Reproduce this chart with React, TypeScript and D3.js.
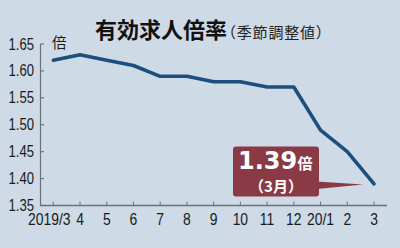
import React from "react";
import * as d3 from "d3";

const months = ["2019/3", "4", "5", "6", "7", "8", "9", "10", "11", "12", "20/1", "2", "3"];
const values = [1.62, 1.63, 1.62, 1.61, 1.59, 1.59, 1.58, 1.58, 1.57, 1.57, 1.49, 1.45, 1.39];
const yTicks = [1.35, 1.4, 1.45, 1.5, 1.55, 1.6, 1.65];
const title = "有効求人倍率";
const subtitle = "（季節調整値）";
const unit = "倍";
const calloutValue = "1.39";
const calloutMonth = "（3月）";

const W = 400;
const H = 248;
const NUM_FONT = "'Liberation Sans', Arial, sans-serif";
const JP_FONT = "'Noto Sans CJK JP', sans-serif";

function Narrow(props: {
  x: number;
  y: number;
  anchor: "start" | "middle" | "end";
  size: number;
  sx?: number;
  children: React.ReactNode;
}) {
  const sx = props.sx ?? 0.82;
  return (
    <text
      transform={`translate(${props.x},${props.y}) scale(${sx},1)`}
      textAnchor={props.anchor}
      fontFamily={NUM_FONT}
      fontSize={props.size}
      fill="#1a1a1a"
    >
      {props.children}
    </text>
  );
}

export default function App() {
  const x = d3.scaleLinear().domain([0, months.length - 1]).range([53.3, 374]);
  const y = d3.scaleLinear().domain([1.35, 1.65]).range([205.5, 44]);
  const line = d3
    .line<number>()
    .x((_, i) => x(i))
    .y((d) => y(d));
  const xAxisEnd = 387;
  const axisColor = "#6d7278";
  const box = { x0: 233, x1: 319, y0: 146.5, y1: 196.5 };
  const lastX = x(values.length - 1);
  const lastY = y(values[values.length - 1]);

  return (
    <svg
      width={W}
      height={H}
      style={{ position: "absolute", left: 0, top: 0, display: "block" }}
    >
      <rect x={0} y={0} width={W} height={H} fill="#cedae6" />
      <text x={95} y={38} fontFamily={JP_FONT} fontWeight={700} fontSize={22} fill="#111">
        {title}
      </text>
      <text x={221} y={38} fontFamily={JP_FONT} fontSize={15} letterSpacing={0.8} fill="#222">
        {subtitle}
      </text>
      {/* axes */}
      <line x1={40.5} x2={40.5} y1={y(1.65)} y2={y(1.35)} stroke={axisColor} strokeWidth={1.2} />
      <line x1={40} x2={xAxisEnd} y1={y(1.35)} y2={y(1.35)} stroke={axisColor} strokeWidth={1.4} />
      {yTicks.map((t) => (
        <g key={t}>
          <line x1={40.5} x2={44} y1={y(t)} y2={y(t)} stroke={axisColor} strokeWidth={1.2} />
          <Narrow x={34} y={y(t) + 5.5} anchor="end" size={16}>
            {t.toFixed(2)}
          </Narrow>
        </g>
      ))}
      {months.map((m, i) => (
        <g key={m + i}>
          <line x1={x(i)} x2={x(i)} y1={y(1.35) - 4} y2={y(1.35)} stroke={axisColor} strokeWidth={1} />
          <Narrow x={x(i) + (i === 0 ? -4 : 0)} y={224.5} anchor="middle" size={17}>
            {m}
          </Narrow>
        </g>
      ))}
      <text x={52} y={48} fontFamily={JP_FONT} fontSize={14.5} fill="#1a1a1a">
        {unit}
      </text>
      <path
        d={line(values) || ""}
        fill="none"
        stroke="#1c4f7d"
        strokeWidth={3.6}
        strokeLinejoin="round"
        strokeLinecap="round"
      />
      {/* callout */}
      <path
        d={`M${box.x1 - 2},${box.y1 - 15} L${lastX - 11},${lastY + 0.5} L${box.x1 - 2},${box.y1 - 7.5} Z`}
        fill="#8a3a45"
      />
      <rect
        x={box.x0}
        y={box.y0}
        width={box.x1 - box.x0}
        height={box.y1 - box.y0}
        rx={3}
        fill="#8a3a45"
      />
      <text x={238} y={169} fontFamily="'DejaVu Sans', sans-serif" fontWeight={700} fontSize={24} fill="#fff">
        {calloutValue}
      </text>
      <text x={297.5} y={168.5} fontFamily={JP_FONT} fontWeight={700} fontSize={15} fill="#fff">
        {unit}
      </text>
      <text
        x={276}
        y={192}
        textAnchor="middle"
        fontFamily={JP_FONT}
        fontWeight={700}
        fontSize={15}
        fill="#fff"
      >
        {calloutMonth}
      </text>
    </svg>
  );
}
